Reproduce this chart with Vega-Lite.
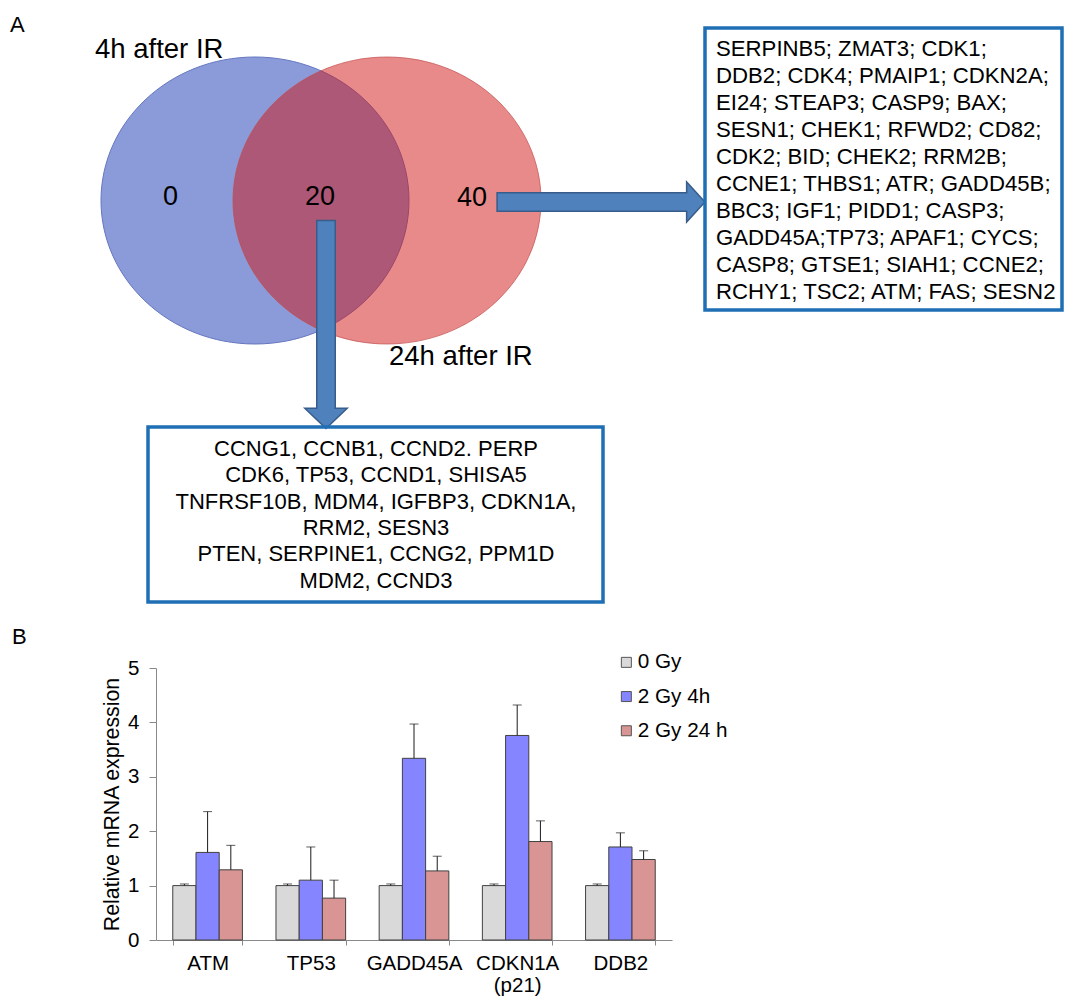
{
  "$schema": "https://vega.github.io/schema/vega-lite/v6.json",
  "width": 1065,
  "height": 998,
  "autosize": {"type": "none"},
  "padding": 0,
  "background": "white",
  "config": {"view": {"stroke": null}, "font": "Liberation Sans"},
  "datasets": {
    "ellipses": [
      {"set": "4h after IR", "x": 255, "y": 200.5},
      {"set": "24h after IR", "x": 387, "y": 200.5}
    ],
    "counts": [
      {"region": "4h only", "n": 0, "x": 170.5, "y": 205},
      {"region": "both", "n": 20, "x": 320, "y": 205},
      {"region": "24h only", "n": 40, "x": 472, "y": 206}
    ],
    "setLabels": [
      {"label": "4h after IR", "x": 95, "y": 58},
      {"label": "24h after IR", "x": 389, "y": 365}
    ],
    "panels": [
      {"panel": "A", "x": 10, "y": 32},
      {"panel": "B", "x": 12, "y": 644}
    ],
    "arrows": [
      {"dir": "right", "x": 601, "y": 202},
      {"dir": "down", "x": 326, "y": 324.5}
    ],
    "boxes": [
      {"box": "24h only", "x": 705, "x2": 1062, "y": 28, "y2": 310},
      {"box": "both", "x": 148, "x2": 603, "y": 427, "y2": 602}
    ],
    "boxText": [
      {"box": "24h only", "x": 716, "y": 56, "lines": ["SERPINB5; ZMAT3; CDK1;", "DDB2; CDK4; PMAIP1; CDKN2A;", "EI24; STEAP3; CASP9; BAX;", "SESN1; CHEK1; RFWD2; CD82;", "CDK2; BID; CHEK2; RRM2B;", "CCNE1; THBS1; ATR; GADD45B;", "BBC3; IGF1; PIDD1; CASP3;", "GADD45A;TP73; APAF1; CYCS;", "CASP8; GTSE1; SIAH1; CCNE2;", "RCHY1; TSC2; ATM; FAS; SESN2"]},
      {"box": "both", "x": 376, "y": 456, "lines": ["CCNG1, CCNB1, CCND2. PERP", "CDK6, TP53, CCND1, SHISA5", "TNFRSF10B, MDM4, IGFBP3, CDKN1A,", "RRM2, SESN3", "PTEN, SERPINE1, CCNG2, PPM1D", "MDM2, CCND3"]}
    ],
    "expression": [
      {"gene": "ATM", "dose": "0 Gy", "value": 1.0, "upper": 1.03},
      {"gene": "ATM", "dose": "2 Gy 4h", "value": 1.61, "upper": 2.36},
      {"gene": "ATM", "dose": "2 Gy 24 h", "value": 1.29, "upper": 1.74},
      {"gene": "TP53", "dose": "0 Gy", "value": 1.0, "upper": 1.03},
      {"gene": "TP53", "dose": "2 Gy 4h", "value": 1.10, "upper": 1.71},
      {"gene": "TP53", "dose": "2 Gy 24 h", "value": 0.77, "upper": 1.10},
      {"gene": "GADD45A", "dose": "0 Gy", "value": 1.0, "upper": 1.03},
      {"gene": "GADD45A", "dose": "2 Gy 4h", "value": 3.34, "upper": 3.97},
      {"gene": "GADD45A", "dose": "2 Gy 24 h", "value": 1.27, "upper": 1.54},
      {"gene": "CDKN1A (p21)", "dose": "0 Gy", "value": 1.0, "upper": 1.03},
      {"gene": "CDKN1A (p21)", "dose": "2 Gy 4h", "value": 3.76, "upper": 4.32},
      {"gene": "CDKN1A (p21)", "dose": "2 Gy 24 h", "value": 1.81, "upper": 2.19},
      {"gene": "DDB2", "dose": "0 Gy", "value": 1.0, "upper": 1.03},
      {"gene": "DDB2", "dose": "2 Gy 4h", "value": 1.71, "upper": 1.97},
      {"gene": "DDB2", "dose": "2 Gy 24 h", "value": 1.48, "upper": 1.64}
    ]
  },
  "layer": [
    {
      "encoding": {
        "x": {"field": "x", "type": "quantitative", "scale": {"domain": [0, 1065], "range": [0, 1065], "nice": false, "zero": false}, "axis": null},
        "y": {"field": "y", "type": "quantitative", "scale": {"domain": [0, 998], "range": [0, 998], "nice": false, "zero": false}, "axis": null}
      },
      "layer": [
        {
          "data": {"name": "ellipses"},
          "transform": [{"filter": "datum.set === '4h after IR'"}],
          "mark": {"type": "point", "shape": "M1.0732,0C1.0732,0.5523 0.5927,1 0,1C-0.5927,1 -1.0732,0.5523 -1.0732,0C-1.0732,-0.5523 -0.5927,-1 0,-1C0.5927,-1 1.0732,-0.5523 1.0732,0Z", "size": 82369, "filled": true, "fill": "#8B9AD8", "fillOpacity": 1, "opacity": 1, "stroke": "#6577C0", "strokeWidth": 1}
        },
        {
          "data": {"name": "ellipses"},
          "transform": [{"filter": "datum.set === '24h after IR'"}],
          "mark": {"type": "point", "shape": "M1.0732,0C1.0732,0.5523 0.5927,1 0,1C-0.5927,1 -1.0732,0.5523 -1.0732,0C-1.0732,-0.5523 -0.5927,-1 0,-1C0.5927,-1 1.0732,-0.5523 1.0732,0Z", "size": 82369, "filled": true, "fill": "#D11515", "fillOpacity": 0.5, "opacity": 1, "stroke": "#C24A4A", "strokeOpacity": 0.7, "strokeWidth": 1}
        },
        {
          "data": {"name": "arrows"},
          "mark": {"type": "point", "filled": true, "fill": "#4F81BD", "stroke": "#385D8A", "strokeWidth": 1.5, "size": 43200, "opacity": 1},
          "encoding": {
            "shape": {"field": "dir", "type": "nominal", "scale": {"domain": ["right", "down"], "range": ["M-1,-0.088L0.824,-0.088L0.824,-0.192L1,0L0.824,0.192L0.824,0.088L-1,0.088Z", "M-0.089,-1L0.089,-1L0.089,0.807L0.204,0.807L0,1L-0.204,0.807L-0.089,0.807Z"]}, "legend": null}
          }
        },
        {
          "data": {"name": "boxes"},
          "mark": {"type": "rect", "filled": false, "stroke": "#1F6FB5", "strokeWidth": 3.5},
          "encoding": {"x2": {"field": "x2"}, "y2": {"field": "y2"}}
        },
        {
          "data": {"name": "counts"},
          "mark": {"type": "text", "fontSize": 27, "align": "center", "baseline": "alphabetic", "color": "#000000"},
          "encoding": {"text": {"field": "n", "type": "quantitative"}}
        },
        {
          "data": {"name": "setLabels"},
          "mark": {"type": "text", "fontSize": 27.5, "align": "left", "baseline": "alphabetic", "color": "#000000"},
          "encoding": {"text": {"field": "label", "type": "nominal"}}
        },
        {
          "data": {"name": "panels"},
          "mark": {"type": "text", "fontSize": 22, "align": "left", "baseline": "alphabetic", "color": "#000000"},
          "encoding": {"text": {"field": "panel", "type": "nominal"}}
        },
        {
          "data": {"name": "boxText"},
          "transform": [{"filter": "datum.box === '24h only'"}],
          "mark": {"type": "text", "fontSize": 22.2, "align": "left", "baseline": "alphabetic", "lineHeight": 27, "color": "#000000"},
          "encoding": {"text": {"field": "lines"}}
        },
        {
          "data": {"name": "boxText"},
          "transform": [{"filter": "datum.box === 'both'"}],
          "mark": {"type": "text", "fontSize": 22, "align": "center", "baseline": "alphabetic", "lineHeight": 26.3, "color": "#000000"},
          "encoding": {"text": {"field": "lines"}}
        }
      ]
    },
    {
      "data": {"name": "expression"},
      "encoding": {
        "x": {
          "field": "gene", "type": "nominal",
          "sort": ["ATM", "TP53", "GADD45A", "CDKN1A (p21)", "DDB2"],
          "scale": {"range": [156, 672], "paddingInner": 0.325, "paddingOuter": 0.1625},
          "axis": {"orient": "bottom", "offset": -58, "title": null, "tickBand": "extent", "labelAngle": 0, "labelExpr": "split(datum.label, ' ')", "labelLineHeight": 22, "labelFontSize": 20.5, "labelColor": "#000000", "labelPadding": 8, "tickSize": 5, "tickColor": "#898989", "domainColor": "#898989", "grid": false}
        },
        "xOffset": {"field": "dose", "type": "nominal", "sort": ["0 Gy", "2 Gy 4h", "2 Gy 24 h"], "scale": {"paddingInner": 0, "paddingOuter": 0}},
        "y": {
          "field": "value", "type": "quantitative",
          "scale": {"domain": [0, 5], "range": [940, 668], "nice": false},
          "axis": {"orient": "left", "offset": -156, "values": [0, 1, 2, 3, 4, 5], "grid": false, "tickSize": 7, "tickColor": "#898989", "domainColor": "#898989", "labelFontSize": 20.5, "labelColor": "#000000", "labelPadding": 10, "title": "Relative mRNA expression", "titleFontSize": 21.3, "titleFontWeight": "normal", "titleColor": "#000000", "titleX": -44, "titleY": 804, "titleAngle": -90, "titleAlign": "center", "titleBaseline": "middle"}
        }
      },
      "layer": [
        {
          "mark": {"type": "bar", "stroke": "#404040", "strokeWidth": 1},
          "encoding": {
            "color": {
              "field": "dose", "type": "nominal",
              "scale": {"domain": ["0 Gy", "2 Gy 4h", "2 Gy 24 h"], "range": ["#D9D9D9", "#8585FF", "#D99594"]},
              "legend": {"orient": "none", "legendX": 616, "legendY": 652, "title": null, "direction": "vertical", "symbolType": "square", "symbolSize": 100, "symbolStrokeColor": "#555555", "symbolStrokeWidth": 1, "symbolOpacity": 1, "labelFontSize": 20.7, "labelColor": "#000000", "rowPadding": 12.2, "padding": 0, "labelOffset": 1, "offset": 0}
            }
          }
        },
        {
          "mark": {"type": "rule", "color": "#1a1a1a", "strokeWidth": 1},
          "encoding": {"y2": {"field": "upper"}}
        },
        {
          "mark": {"type": "tick", "orient": "horizontal", "color": "#1a1a1a", "size": 9, "thickness": 1},
          "encoding": {"y": {"field": "upper", "type": "quantitative"}}
        }
      ]
    }
  ],
  "resolve": {"scale": {"x": "independent", "y": "independent"}, "axis": {"x": "independent", "y": "independent"}}
}
